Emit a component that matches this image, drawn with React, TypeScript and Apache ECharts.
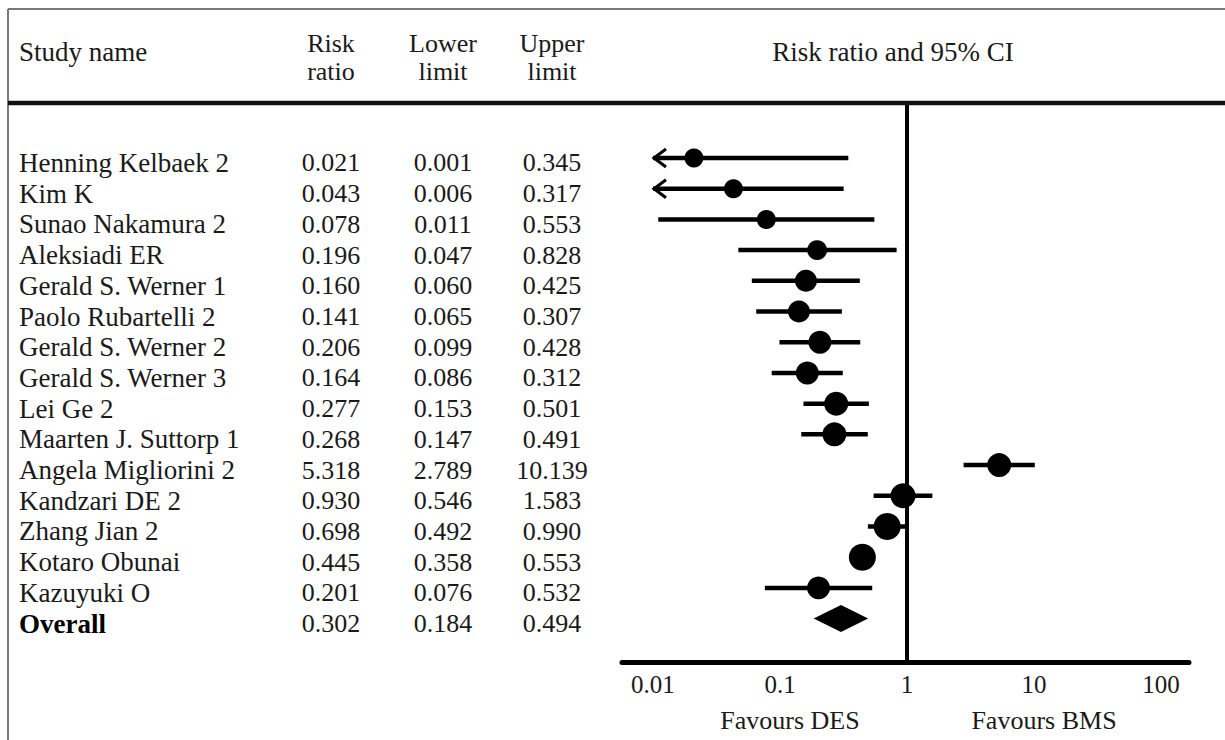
import React, { useEffect, useRef } from "react";
import * as echarts from "echarts";

const studyNames = [
  "Henning Kelbaek 2",
  "Kim K",
  "Sunao Nakamura 2",
  "Aleksiadi ER",
  "Gerald S. Werner 1",
  "Paolo Rubartelli 2",
  "Gerald S. Werner 2",
  "Gerald S. Werner 3",
  "Lei Ge 2",
  "Maarten J. Suttorp 1",
  "Angela Migliorini 2",
  "Kandzari DE 2",
  "Zhang Jian 2",
  "Kotaro Obunai",
  "Kazuyuki O",
];
const riskRatio = [0.021, 0.043, 0.078, 0.196, 0.16, 0.141, 0.206, 0.164, 0.277, 0.268, 5.318, 0.93, 0.698, 0.445, 0.201];
const lowerLimit = [0.001, 0.006, 0.011, 0.047, 0.06, 0.065, 0.099, 0.086, 0.153, 0.147, 2.789, 0.546, 0.492, 0.358, 0.076];
const upperLimit = [0.345, 0.317, 0.553, 0.828, 0.425, 0.307, 0.428, 0.312, 0.501, 0.491, 10.139, 1.583, 0.99, 0.553, 0.532];
// relative study weights (drive marker size)
const studyWeight = [2.5, 2.5, 2.5, 3.3, 5.0, 5.0, 5.8, 5.8, 6.7, 6.7, 6.7, 7.5, 9.2, 9.2, 5.8];

const overallName = "Overall";
const overallRR = 0.302;
const overallLower = 0.184;
const overallUpper = 0.494;

const tickValues = [0.01, 0.1, 1, 10, 100];
const tickLabels = ["0.01", "0.1", "1", "10", "100"];

const columnHeaders = [
  ["Risk", "ratio"],
  ["Lower", "limit"],
  ["Upper", "limit"],
];

const FONT = "'Liberation Serif', 'Times New Roman', Times, serif";
const INK = "#1a1a1a";

export default function App() {
  const ref = useRef<HTMLDivElement>(null);

  useEffect(() => {
    if (!ref.current) return;
    const chart = echarts.init(ref.current, undefined, { renderer: "svg" });

    const L = (v: number) => Math.log10(v);
    const displayMin = L(tickValues[0]);
    const displayMax = L(tickValues[tickValues.length - 1]);

    const ciData = riskRatio.map((rr, i) => [L(rr), L(lowerLimit[i]), L(upperLimit[i]), studyWeight[i], i]);
    const overallRow = studyNames.length;
    const overallData = [[L(overallRR), L(overallLower), L(overallUpper), overallRow]];

    const tableRows = [
      ...studyNames.map((n, i) => ({ name: n, vals: [riskRatio[i], lowerLimit[i], upperLimit[i]], bold: false })),
      { name: overallName, vals: [overallRR, overallLower, overallUpper], bold: true },
    ];
    const tableData = tableRows.map((_, i) => [0, i]);

    const colX = [331, 443, 552];

    const option: any = {
      animation: false,
      backgroundColor: "#ffffff",
      grid: { left: 622, right: 36, top: 105, bottom: 77.5, containLabel: false },
      xAxis: {
        type: "value",
        min: -2.244,
        max: 2.22,
        axisLine: { show: true, onZero: false, lineStyle: { color: "#000", width: 5 } },
        axisTick: { show: false },
        splitLine: { show: false },
        axisLabel: {
          customValues: tickValues.map(L),
          formatter: (v: number) => {
            let best = 0;
            tickValues.forEach((t, k) => {
              if (Math.abs(L(t) - v) < Math.abs(L(tickValues[best]) - v)) best = k;
            });
            return tickLabels[best];
          },
          fontFamily: FONT,
          fontSize: 25,
          color: INK,
          margin: 22,
          verticalAlign: "middle",
        },
      },
      yAxis: {
        type: "value",
        inverse: true,
        min: -1.726,
        max: 16.43,
        show: false,
      },
      graphic: [
        // frame
        { type: "line", shape: { x1: 8, y1: 9, x2: 1225, y2: 9 }, style: { stroke: "#7a7a7a", lineWidth: 2 } },
        { type: "line", shape: { x1: 8, y1: 9, x2: 8, y2: 740 }, style: { stroke: "#7a7a7a", lineWidth: 2 } },
        { type: "line", shape: { x1: 8, y1: 103, x2: 1225, y2: 103 }, style: { stroke: "#111", lineWidth: 4.5 } },
        // headers
        { type: "text", style: { text: "Study name", x: 19, y: 52, align: "left", verticalAlign: "middle", font: `27px ${FONT}`, fill: INK } },
        ...columnHeaders.flatMap((h, k) => [
          { type: "text", style: { text: h[0], x: colX[k], y: 43, align: "center", verticalAlign: "middle", font: `26px ${FONT}`, fill: INK } },
          { type: "text", style: { text: h[1], x: colX[k], y: 71, align: "center", verticalAlign: "middle", font: `26px ${FONT}`, fill: INK } },
        ]),
        { type: "text", style: { text: "Risk ratio and 95% CI", x: 893, y: 52, align: "center", verticalAlign: "middle", font: `27px ${FONT}`, fill: INK } },
        { type: "text", style: { text: "Favours DES", x: 790, y: 720, align: "center", verticalAlign: "middle", font: `26px ${FONT}`, fill: INK } },
        { type: "text", style: { text: "Favours BMS", x: 1044, y: 720, align: "center", verticalAlign: "middle", font: `26px ${FONT}`, fill: INK } },
      ],
      series: [
        {
          type: "custom",
          name: "studies",
          clip: false,
          encode: { x: [0, 1, 2], y: 4 },
          data: ciData,
          renderItem: (params: any, api: any) => {
            const lrr = api.value(0);
            const llo = api.value(1);
            const lhi = api.value(2);
            const w = api.value(3);
            const row = api.value(4);
            const leftCut = llo < displayMin;
            const rightCut = lhi > displayMax;
            const pLo = api.coord([Math.max(llo, displayMin), row]);
            const pHi = api.coord([Math.min(lhi, displayMax), row]);
            const pRR = api.coord([lrr, row]);
            const r = (16 + 1.2 * w) / 2;
            const children: any[] = [
              { type: "line", shape: { x1: pLo[0], y1: pLo[1], x2: pHi[0], y2: pHi[1] }, style: { stroke: "#000", lineWidth: 4.5 } },
            ];
            if (leftCut) {
              children.push({
                type: "polyline",
                shape: { points: [[pLo[0] + 13, pLo[1] - 9], [pLo[0] + 1, pLo[1]], [pLo[0] + 13, pLo[1] + 9]] },
                style: { stroke: "#000", lineWidth: 3, fill: "none" },
              });
            }
            if (rightCut) {
              children.push({
                type: "polyline",
                shape: { points: [[pHi[0] - 13, pHi[1] - 9], [pHi[0] - 1, pHi[1]], [pHi[0] - 13, pHi[1] + 9]] },
                style: { stroke: "#000", lineWidth: 3, fill: "none" },
              });
            }
            children.push({ type: "circle", shape: { cx: pRR[0], cy: pRR[1], r }, style: { fill: "#000" } });
            return { type: "group", children };
          },
          markLine: {
            silent: true,
            symbol: "none",
            label: { show: false },
            lineStyle: { color: "#000", width: 4, type: "solid" },
            data: [{ xAxis: 0 }],
          },
        },
        {
          type: "custom",
          name: "overall",
          clip: false,
          encode: { x: [0, 1, 2], y: 3 },
          data: overallData,
          renderItem: (params: any, api: any) => {
            const row = api.value(3);
            const c = api.coord([api.value(0), row]);
            const lo = api.coord([api.value(1), row]);
            const hi = api.coord([api.value(2), row]);
            const h = 13.5;
            return {
              type: "polygon",
              shape: { points: [[lo[0], c[1]], [c[0], c[1] - h], [hi[0], c[1]], [c[0], c[1] + h]] },
              style: { fill: "#000" },
            };
          },
        },
        {
          type: "custom",
          name: "table",
          clip: false,
          encode: { x: 0, y: 1 },
          data: tableData,
          renderItem: (params: any, api: any) => {
            const row = api.value(1);
            const y = api.coord([0, row])[1] + 5;
            const item = tableRows[params.dataIndex];
            const children: any[] = [
              {
                type: "text",
                style: {
                  text: item.name,
                  x: 19,
                  y,
                  align: "left",
                  verticalAlign: "middle",
                  font: `${item.bold ? "bold " : ""}27px ${FONT}`,
                  fill: item.bold ? "#000" : INK,
                },
              },
              ...item.vals.map((v, k) => ({
                type: "text",
                style: { text: v.toFixed(3), x: colX[k], y, align: "center", verticalAlign: "middle", font: `26px ${FONT}`, fill: INK },
              })),
            ];
            return { type: "group", children };
          },
        },
      ],
    };

    chart.setOption(option);
    return () => chart.dispose();
  }, []);

  return (
    <div
      ref={ref}
      style={{ position: "absolute", left: 0, top: 0, width: 1225, height: 740, background: "#fff" }}
    />
  );
}
